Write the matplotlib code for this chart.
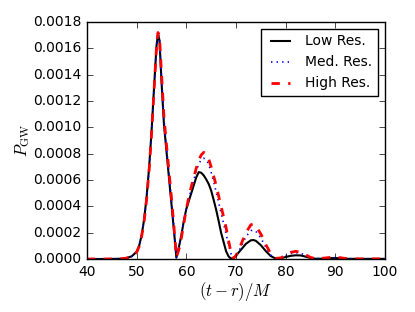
import numpy as np
import matplotlib
matplotlib.use('Agg')
import matplotlib.pyplot as plt

plt.style.use('classic')

# retarded time (t - r)/M
t = [40, 44, 47, 48, 49, 50, 50.5, 51, 51.5, 52, 52.5, 53, 53.5, 54, 54.3, 54.6,
     55, 55.5, 56, 56.5, 57, 57.5, 58, 58.5, 59, 59.5, 60, 60.5, 61, 61.5, 62,
     62.5, 63, 63.5, 64, 64.5, 65, 65.5, 66, 66.5, 67, 67.5, 68, 68.5, 69, 69.5,
     70, 71, 72, 73, 73.5, 74, 75, 76, 77, 78, 79, 80, 81, 82, 83, 84, 85, 86,
     87, 88, 89, 90, 91, 92, 94, 96, 100]

# P_GW in units of 1e-4
p_low = [0, 0, 0.02, 0.08, 0.2, 0.55, 1.0, 1.8, 3.0, 4.7, 6.9, 9.7, 13.0, 16.2, 17.1, 16.6,
         13.5, 10.2, 8.2, 6.2, 4.2, 2.2, 0.1, 0.9, 1.8, 2.9, 3.8, 4.4, 5.0, 5.6, 6.2,
         6.6, 6.55, 6.35, 6.05, 5.7, 5.2, 4.5, 3.75, 2.9, 2.0, 1.3, 0.6, 0.2, 0.02, 0.1,
         0.25, 0.7, 1.15, 1.42, 1.44, 1.38, 1.05, 0.6, 0.22, 0.03, 0.06, 0.15, 0.24, 0.28, 0.27, 0.18, 0.08, 0.02,
         0.02, 0.04, 0.06, 0.07, 0.05, 0.02, 0.01, 0.01, 0.01]
p_med = [0, 0, 0.02, 0.08, 0.2, 0.55, 1.0, 1.75, 2.9, 4.6, 6.8, 9.6, 12.9, 16.1, 17.1, 16.8,
         13.9, 10.6, 8.5, 6.5, 4.5, 2.4, 0.1, 0.8, 1.7, 2.8, 3.85, 4.6, 5.3, 6.0, 6.7,
         7.2, 7.55, 7.65, 7.55, 7.2, 6.6, 5.9, 5.1, 4.3, 3.5, 2.7, 1.9, 1.1, 0.4, 0.05,
         0.2, 0.9, 1.7, 2.15, 2.2, 2.1, 1.6, 0.9, 0.3, 0.04, 0.07, 0.25, 0.42, 0.48, 0.44, 0.28, 0.1, 0.02,
         0.03, 0.06, 0.09, 0.1, 0.08, 0.03, 0.01, 0.01, 0.01]
p_high = [0, 0, 0.02, 0.07, 0.18, 0.5, 0.95, 1.7, 2.85, 4.5, 6.7, 9.5, 12.8, 16.1, 17.2, 16.9,
          14.1, 10.8, 8.7, 6.7, 4.7, 2.5, 0.15, 0.7, 1.6, 2.7, 3.8, 4.7, 5.5, 6.2, 6.9,
          7.5, 7.9, 8.1, 8.0, 7.6, 7.0, 6.3, 5.6, 4.8, 4.0, 3.2, 2.4, 1.4, 0.5, 0.05,
          0.25, 1.1, 2.0, 2.6, 2.66, 2.5, 1.9, 1.1, 0.4, 0.05, 0.08, 0.3, 0.5, 0.58, 0.52, 0.33, 0.12, 0.03,
          0.04, 0.08, 0.12, 0.13, 0.1, 0.04, 0.01, 0.01, 0.01]

scale = 1e-4

fig = plt.figure(figsize=(4.15, 3.12), dpi=100, facecolor='white')
ax = fig.add_axes([0.2096, 0.1699, 0.7181, 0.7596])

ax.plot(t, np.array(p_low) * scale, 'k-', lw=1.5, label='Low Res.')
ax.plot(t, np.array(p_med) * scale, 'b:', lw=1.2, label='Med. Res.')
ax.plot(t, np.array(p_high) * scale, 'r--', lw=2, label='High Res.')

ax.set_xlim(40, 100)
ax.set_ylim(0, 0.0018)
ax.set_xticks(np.arange(40, 101, 10))
ax.set_yticks(np.arange(0, 0.00181, 0.0002))
ax.tick_params(labelsize=10)
ax.set_xlabel(r'$(t-r)/M$', fontsize=12, labelpad=1)
ax.set_ylabel(r'$P_{\rm GW}$', fontsize=12, labelpad=1)
ax.legend(loc='upper right', fontsize=10)

fig.savefig('out.png', dpi=100, facecolor='white')
